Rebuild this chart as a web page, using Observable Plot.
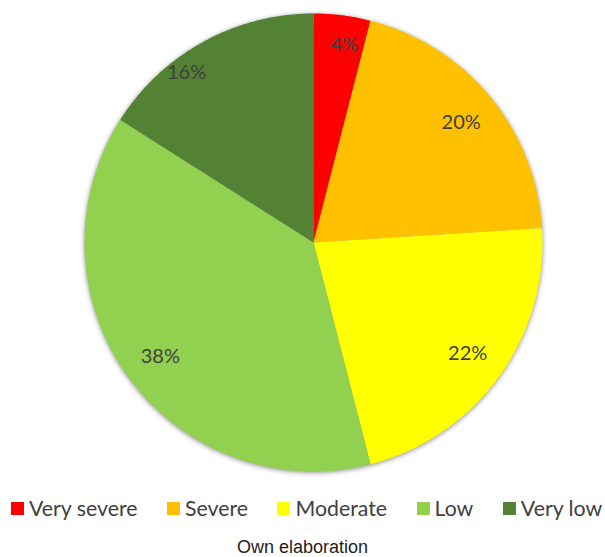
<!DOCTYPE html>
<html>
<head>
<meta charset="utf-8">
<script src="https://cdn.jsdelivr.net/npm/d3@7"></script>
<script src="https://cdn.jsdelivr.net/npm/@observablehq/plot@0.6"></script>
<style>
  html, body { margin: 0; padding: 0; background: #fff; }
  #chart { width: 605px; }
  .lg-swatches { flex-wrap: nowrap !important; margin: 0 !important; padding-left: 11px; height: 46px; align-items: center !important; min-height: 0 !important; }
  .lg-swatch { margin-right: 29.5px !important; white-space: nowrap !important; flex-shrink: 0 !important; }
  .lg-swatch > svg { margin-right: 5px !important; flex-shrink: 0 !important; }
  #caption { font-family: "Liberation Sans", Arial, sans-serif; font-size: 18px; color: #222; text-align: center; width: 605px; margin-top: 6px; }
</style>
</head>
<body>
<div id="chart"></div>
<script>
// ---- data ----
const categories = ["Very severe", "Severe", "Moderate", "Low", "Very low"];
const shares = [4, 20, 22, 38, 16];
const colors = ["#FF0000", "#FFC000", "#FFFF00", "#92D050", "#548235"];
const labels = ["4%", "20%", "22%", "38%", "16%"];

// ---- layout tweaks for label placement (angle offset in degrees, radius fraction) ----
const labelPlacement = {
  "Very severe": [1.7, 0.875],
  "Severe": [0.6, 0.83],
  "Moderate": [-0.2, 0.83],
  "Low": [-0.7, 0.834],
  "Very low": [-8, 0.925]
};

const arcs = d3.pie().sort(null).value(d => d.share)(
  categories.map((c, i) => ({cat: c, share: shares[i], label: labels[i]}))
);

// polygon points for each slice (angle measured clockwise from top)
const pts = [];
for (const a of arcs) {
  const c = a.data.cat;
  pts.push({cat: c, x: 0, y: 0});
  const n = Math.max(2, Math.ceil((a.endAngle - a.startAngle) / 0.01));
  for (let k = 0; k <= n; k++) {
    const t = a.startAngle + (a.endAngle - a.startAngle) * k / n;
    pts.push({cat: c, x: Math.sin(t), y: Math.cos(t)});
  }
}

const labelPts = arcs.map(a => {
  const [off, rf] = labelPlacement[a.data.cat];
  const t = (a.startAngle + a.endAngle) / 2 + off * Math.PI / 180;
  return {cat: a.data.cat, label: a.data.label, x: rf * Math.sin(t), y: rf * Math.cos(t)};
});

const plot = Plot.plot({
  width: 605,
  height: 485,
  marginLeft: 84,
  marginRight: 63,
  marginTop: 13,
  marginBottom: 14,
  x: {domain: [-1, 1], axis: null},
  y: {domain: [-1, 1], axis: null},
  color: {domain: categories, range: colors},
  marks: [
    Plot.line(pts, {x: "x", y: "y", z: "cat", fill: "cat", stroke: null, curve: "linear-closed"}),
    Plot.text(labelPts, {x: "x", y: "y", text: "label", fill: "#404040", fontSize: 20, fontFamily: "Lato, 'Open Sans', sans-serif"})
  ]
});
plot.style.display = "block";
const lineG = plot.querySelector('g[aria-label="line"]');
if (lineG) lineG.style.filter = "drop-shadow(0px 1px 2.5px rgba(0,0,0,0.45))";

const legend = plot.legend("color", {
  className: "lg",
  swatchSize: 13,
  style: {fontSize: "21.3px", fontFamily: "Lato, 'Open Sans', sans-serif", color: "#404040"}
});

const chart = document.getElementById("chart");
chart.appendChild(plot);
chart.appendChild(legend);
const cap = document.createElement("div");
cap.id = "caption";
cap.textContent = "Own elaboration";
chart.appendChild(cap);
</script>
</body>
</html>
